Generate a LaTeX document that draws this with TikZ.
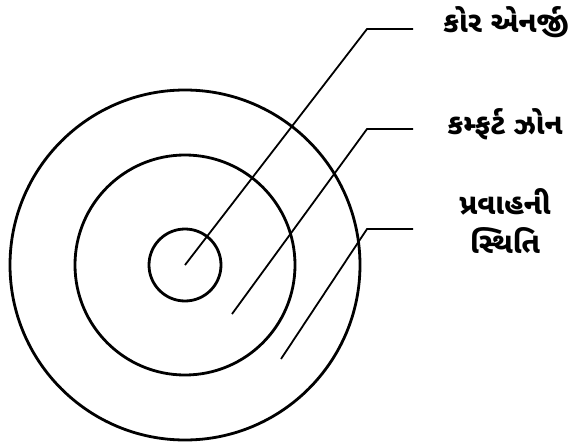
\documentclass[tikz,border=0pt]{standalone}
\usepackage{fontspec}
\newfontfamily\gujfont[Script=Gujarati]{Noto Sans Gujarati UI}
\begin{document}
\begin{tikzpicture}[x=1pt,y=-1pt,
  ring/.style={draw=black,line width=2.8pt,circle,inner sep=0pt},
  leader/.style={draw=black,line width=1.8pt},
  lbl/.style={font=\gujfont\fontsize{29}{39}\selectfont\bfseries,align=center,inner sep=0pt}]
\useasboundingbox (0,0) rectangle (584,444);
\node[ring,minimum size=350pt] (outer) at (185,265) {};
\node[ring,minimum size=220pt] (middle) at (185,265) {};
\node[ring,minimum size=72pt] (inner) at (185,265) {};
\coordinate (p1) at (185,265);
\coordinate (p2) at (232,314);
\coordinate (p3) at (281,359);
\coordinate (k1) at (367,29);
\coordinate (k2) at (367,129);
\coordinate (k3) at (367,229);
\coordinate (e1) at (413,29);
\coordinate (e2) at (413,129);
\coordinate (e3) at (413,229);
\node[lbl] (t1) at (506,22) {કોર એનર્જી};
\node[lbl] (t2) at (505,124) {કમ્ફર્ટ ઝોન};
\node[lbl] (t3) at (505,221) {પ્રવાહની\\સ્થિતિ};
\draw[leader] (p1) -- (k1) -- (e1);
\draw[leader] (p2) -- (k2) -- (e2);
\draw[leader] (p3) -- (k3) -- (e3);
\end{tikzpicture}
\end{document}
